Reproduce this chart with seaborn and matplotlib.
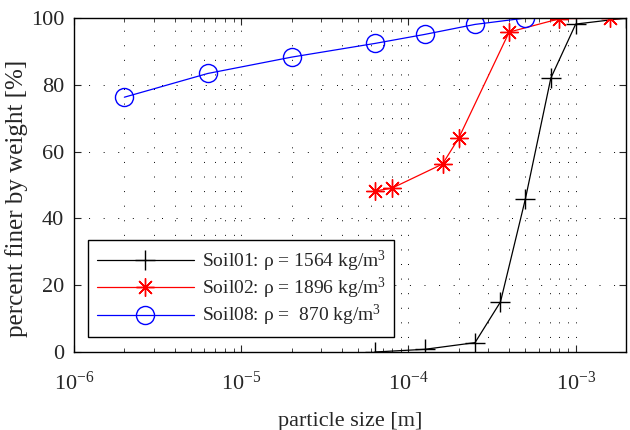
import matplotlib
matplotlib.use("Agg")
import matplotlib.pyplot as plt
import seaborn as sns
from matplotlib.ticker import LogLocator, NullFormatter

# Grain size distributions (particle size in m, percent finer by weight)
soil01_size = [6.3e-5, 1.25e-4, 2.5e-4, 3.55e-4, 5.0e-4, 7.1e-4, 1.0e-3, 2.0e-3]
soil01_pct = [0.0, 0.8, 2.8, 15.0, 45.8, 82.0, 98.2, 100.0]

soil02_size = [6.3e-5, 8.0e-5, 1.6e-4, 2.0e-4, 4.0e-4, 8.0e-4, 1.6e-3]
soil02_pct = [48.2, 49.1, 56.3, 64.1, 95.8, 99.8, 100.0]

soil08_size = [2.0e-6, 6.3e-6, 2.0e-5, 6.3e-5, 1.25e-4, 2.5e-4, 5.0e-4]
soil08_pct = [76.3, 83.4, 88.3, 92.4, 95.1, 98.1, 100.0]

labels = ["Soil01: \u03c1 = 1564 kg/m$^3$",
          "Soil02: \u03c1 = 1896 kg/m$^3$",
          "Soil08: \u03c1 =  870 kg/m$^3$"]

sns.set_style("ticks")
plt.rcParams["font.family"] = ["Liberation Serif", "DejaVu Serif"]
plt.rcParams["mathtext.fontset"] = "custom"
plt.rcParams["mathtext.rm"] = "Liberation Serif"
plt.rcParams["mathtext.it"] = "Liberation Serif:italic"
plt.rcParams["font.size"] = 14

fig = plt.figure(figsize=(6.3, 4.3), dpi=100)
ax = fig.add_axes([0.1175, 0.1814, 0.8762, 0.7766])
ax.set_xscale("log")

sns.lineplot(x=soil01_size, y=soil01_pct, ax=ax, color="black", lw=0.9,
             marker="+", markersize=14, mew=1.0, mec="black", label=labels[0])
sns.lineplot(x=soil02_size, y=soil02_pct, ax=ax, color="red", lw=0.9,
             marker=(8, 2, 0), markersize=13, mew=1.0, mec="red", label=labels[1])
sns.lineplot(x=soil08_size, y=soil08_pct, ax=ax, color="blue", lw=0.9,
             marker="o", markersize=13, mew=1.0, mfc="none", mec="blue", label=labels[2])

ax.set_xlim(1e-6, 2e-3)
ax.set_ylim(0, 100)
ax.set_yticks([0, 20, 40, 60, 80, 100])
ax.xaxis.set_major_locator(LogLocator(base=10, numticks=10))
ax.xaxis.set_minor_locator(LogLocator(base=10, subs=range(2, 10), numticks=20))
ax.xaxis.set_minor_formatter(NullFormatter())

grid_style = dict(color="black", linestyle=(0, (1, 14)), linewidth=0.7)
ax.grid(True, which="major", axis="both", **grid_style)
ax.grid(True, which="minor", axis="x", **grid_style)

ax.tick_params(which="both", direction="in", top=True, right=True, labelsize=16)
ax.tick_params(which="major", length=5, width=0.8)
ax.tick_params(which="minor", length=3, width=0.6)
ax.tick_params(axis="x", which="major", pad=14)
ax.tick_params(axis="y", which="major", pad=7)
for s in ax.spines.values():
    s.set_linewidth(1.0)
    s.set_color("black")

ax.set_xlabel("particle size [m]", fontsize=16)
ax.set_ylabel("percent finer by weight [%]", fontsize=18)
ax.yaxis.set_label_coords(-0.083, 0.461)
ax.xaxis.set_label_coords(0.5, -0.18)

leg = ax.legend(loc="lower left", bbox_to_anchor=(0.025, 0.045), borderaxespad=0,
                fontsize=14, handlelength=5.0, handletextpad=0.4,
                labelspacing=0.1, borderpad=0.45, fancybox=False,
                framealpha=1, edgecolor="black")
leg.get_frame().set_linewidth(1.0)

fig.savefig("out.png", dpi=100)
